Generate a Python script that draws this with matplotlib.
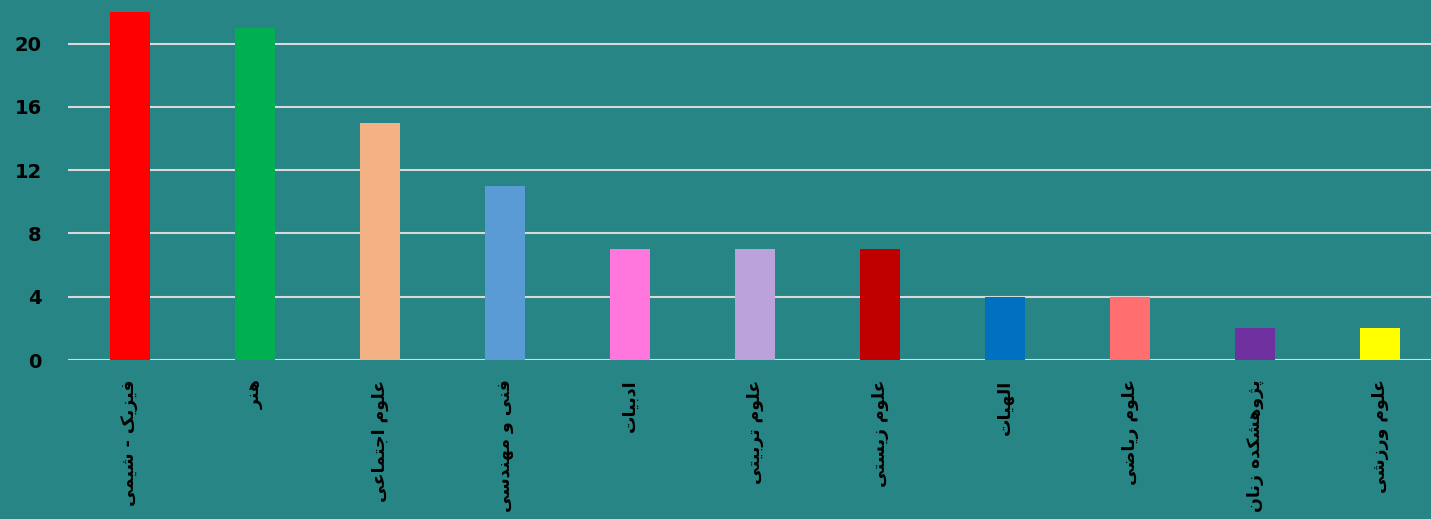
import matplotlib
matplotlib.use("Agg")
import matplotlib.pyplot as plt
import numpy as np

categories = ["فیزیک - شیمی", "هنر", "علوم اجتماعی", "فنی و مهندسی", "ادبیات",
              "علوم تربیتی", "علوم زیستی", "الهیات", "علوم ریاضی",
              "پژوهشکده زنان", "علوم ورزشی"]
values = [22, 21, 15, 11, 7, 7, 7, 4, 4, 2, 2]
colors = ["#FF0000", "#00B050", "#F4B183", "#5B9BD5", "#FF77DD", "#BBA2DA",
          "#C00000", "#0070C0", "#FF6F6F", "#7030A0", "#FFFF00"]
yticks = [0, 4, 8, 12, 16, 20]

BG = "#288585"

# presentation forms: isolated, final, initial, medial (None -> joins right only)
FORMS = {
    "ا": (0xFE8D, 0xFE8E, None, None),
    "ب": (0xFE8F, 0xFE90, 0xFE91, 0xFE92),
    "پ": (0xFB56, 0xFB57, 0xFB58, 0xFB59),
    "ت": (0xFE95, 0xFE96, 0xFE97, 0xFE98),
    "ج": (0xFE9D, 0xFE9E, 0xFE9F, 0xFEA0),
    "د": (0xFEA9, 0xFEAA, None, None),
    "ر": (0xFEAD, 0xFEAE, None, None),
    "ز": (0xFEAF, 0xFEB0, None, None),
    "ژ": (0xFB8A, 0xFB8B, None, None),
    "س": (0xFEB1, 0xFEB2, 0xFEB3, 0xFEB4),
    "ش": (0xFEB5, 0xFEB6, 0xFEB7, 0xFEB8),
    "ض": (0xFEBD, 0xFEBE, 0xFEBF, 0xFEC0),
    "ع": (0xFEC9, 0xFECA, 0xFECB, 0xFECC),
    "ف": (0xFED1, 0xFED2, 0xFED3, 0xFED4),
    "ک": (0xFB8E, 0xFB8F, 0xFB90, 0xFB91),
    "ل": (0xFEDD, 0xFEDE, 0xFEDF, 0xFEE0),
    "م": (0xFEE1, 0xFEE2, 0xFEE3, 0xFEE4),
    "ن": (0xFEE5, 0xFEE6, 0xFEE7, 0xFEE8),
    "ه": (0xFEE9, 0xFEEA, 0xFEEB, 0xFEEC),
    "و": (0xFEED, 0xFEEE, None, None),
    "ی": (0xFBFC, 0xFBFD, 0xFBFE, 0xFBFF),
}


def shape(txt):
    # join letters by hand and flip to visual order (no shaping in matplotlib)
    out = []
    n = len(txt)
    for i, ch in enumerate(txt):
        if ch not in FORMS:
            out.append(ch)
            continue
        f = FORMS[ch]
        prev = txt[i - 1] if i > 0 else None
        nxt = txt[i + 1] if i < n - 1 else None
        join_prev = prev in FORMS and FORMS[prev][2] is not None
        join_next = f[2] is not None and nxt in FORMS
        if join_prev and join_next:
            code = f[3]
        elif join_prev:
            code = f[1]
        elif join_next:
            code = f[2]
        else:
            code = f[0]
        out.append(chr(code))
    return "".join(out)[::-1]


fig = plt.figure(figsize=(14.31, 5.19), dpi=100, facecolor=BG)
ax = fig.add_axes([68 / 1431, 1 - 360 / 519, 1 - 68 / 1431, 348 / 519])
ax.set_facecolor(BG)

x = np.arange(len(categories))
ax.bar(x, values, width=0.32, color=colors, zorder=3)

ax.set_xlim(-0.496, 10.408)
ax.set_ylim(0, 22)
ax.set_yticks(yticks)
ax.set_yticklabels([str(t) for t in yticks], fontsize=14, fontweight="bold", color="black")
ax.yaxis.grid(True, color="#D9D9D9", linewidth=1.5, zorder=0)
ax.set_axisbelow(True)
ax.tick_params(axis="y", length=0, pad=19)
ax.tick_params(axis="x", length=0, pad=14)
ax.set_xticks(x)
ax.set_xticklabels([shape(c) for c in categories], rotation=90, fontsize=12.5,
                   fontweight="bold", color="black")
for s in ax.spines.values():
    s.set_visible(False)

fig.savefig("out.png", dpi=100, facecolor=BG)
